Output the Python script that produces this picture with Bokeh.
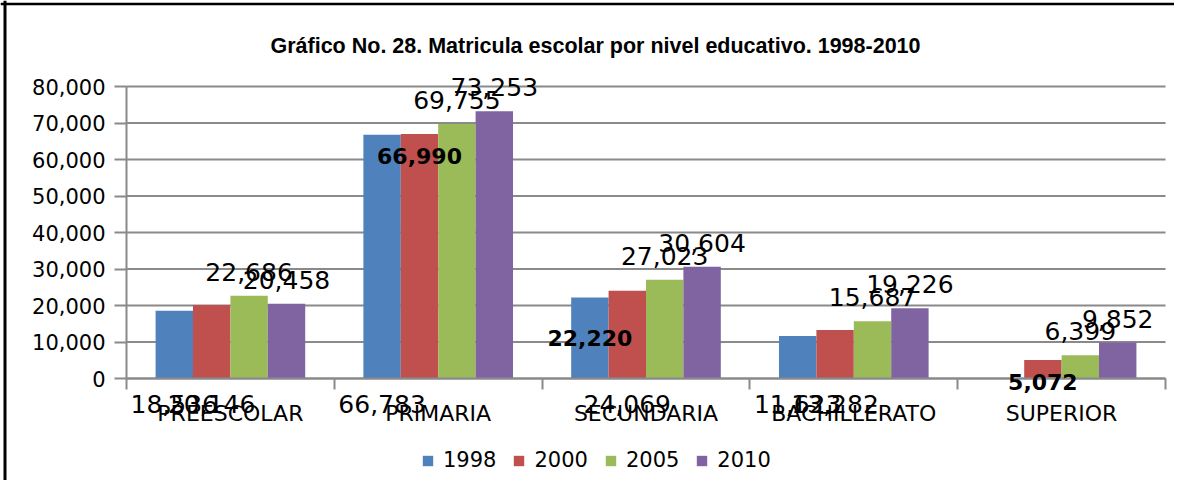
from bokeh.plotting import figure
from bokeh.models import (ColumnDataSource, Range1d, FixedTicker, NumeralTickFormatter,
                          LabelSet, Label, Legend, LegendItem, Span)
from bokeh.embed import file_html
from bokeh.resources import INLINE
from bokeh.core.properties import value

# ---------------- data ----------------
categories = ["PREESCOLAR", "PRIMARIA", "SECUNDARIA", "BACHILLERATO", "SUPERIOR"]
years = ["1998", "2000", "2005", "2010"]
v1998 = [18536, 66783, 22220, 11623, None]
v2000 = [20146, 66990, 24069, 13282, 5072]
v2005 = [22686, 69755, 27023, 15687, 6399]
v2010 = [20458, 73253, 30604, 19226, 9852]
y_ticks = [0, 10000, 20000, 30000, 40000, 50000, 60000, 70000, 80000]
title_text = "Gráfico No. 28. Matricula escolar por nivel educativo. 1998-2010"

# ---------------- styles / layout ----------------
series = [v1998, v2000, v2005, v2010]
colors = ["#4F81BD", "#C0504D", "#9BBB59", "#8064A2"]
label_modes = [
    ["base", "base", "center", "base", None],
    ["base", "inside", "base", "base", "inside"],
    ["above"] * 5,
    ["above"] * 5,
]
bar_offsets = [-0.27, -0.09, 0.09, 0.27]
bar_width = 0.18
GRAY = "#8a8a8a"
FONT = "DejaVu Sans"

W, H = 1174, 480                 # canvas size
PLOT_L, PLOT_R = 126, 1165       # plot area, canvas px
PLOT_T, PLOT_B = 86, 378
n = len(categories)
ymax = y_ticks[-1]
xpx = (PLOT_R - PLOT_L) / n
ypx = (PLOT_B - PLOT_T) / ymax
x_range = Range1d(-PLOT_L / xpx, n + (W - PLOT_R) / xpx)
y_range = Range1d(-(H - PLOT_B) / ypx, ymax + PLOT_T / ypx)

p = figure(width=W, height=H, output_backend="svg", toolbar_location=None,
           x_range=x_range, y_range=y_range,
           min_border_left=0, min_border_right=0, min_border_top=0, min_border_bottom=0)
p.outline_line_color = None
p.background_fill_color = "white"
p.border_fill_color = "white"
p.xgrid.visible = False
p.ygrid.visible = False

# outer chart box (left and top edges visible in the window)
p.add_layout(Span(location=4.5, location_units="screen", dimension="height",
                  line_color="black", line_width=3))
p.add_layout(Span(location=H - 3.5, location_units="screen", dimension="width",
                  line_color="black", line_width=2.5))

# title
p.add_layout(Label(x=595, y=H - 45, x_units="screen", y_units="screen", text=title_text,
                   text_align="center", text_baseline="alphabetic",
                   text_font="Liberation Sans", text_font_style="bold",
                   text_font_size="21.5px", text_color="black"))

# horizontal gridlines over the plot area
p.segment(x0=[0] * len(y_ticks), x1=[n] * len(y_ticks), y0=y_ticks, y1=y_ticks,
          line_color=GRAY, line_width=2)

legend_items = []
for k, (vals, col, yr) in enumerate(zip(series, colors, years)):
    xs, tops = [], []
    for i, v in enumerate(vals):
        if v is None:
            continue
        xs.append(i + 0.5 + bar_offsets[k])
        tops.append(v)
    src = ColumnDataSource(dict(x=xs, top=tops))
    r = p.vbar(x="x", top="top", width=bar_width, source=src,
               fill_color=col, line_color=None)
    legend_items.append(LegendItem(label=yr, renderers=[r]))

    groups = {}
    for i, v in enumerate(vals):
        mode = label_modes[k][i]
        if v is None or mode is None:
            continue
        g = groups.setdefault(mode, dict(x=[], y=[], t=[]))
        g["x"].append(i + 0.5 + bar_offsets[k])
        if mode == "base":
            g["y"].append(0)
        elif mode == "center":
            g["y"].append(v / 2)
        else:
            g["y"].append(v)
        g["t"].append(f"{v:,}")
    for mode, g in groups.items():
        bold = mode in ("inside", "center")
        yoff = {"above": 15, "base": -34, "inside": -30, "center": -8}[mode]
        p.add_layout(LabelSet(x="x", y="y", text="t", source=ColumnDataSource(g),
                              text_align="center", text_baseline="alphabetic",
                              y_offset=yoff, text_font=value(FONT),
                              text_font_size="22px" if bold else "25px",
                              text_font_style="bold" if bold else "normal",
                              text_color="black"))

# x axis: category names at centres, tick marks at category boundaries
p.xaxis.fixed_location = 0
p.xaxis.bounds = (0, n)
p.xaxis.ticker = FixedTicker(ticks=[i + 0.5 for i in range(n)],
                             minor_ticks=list(range(n + 1)))
p.xaxis.major_label_overrides = {i + 0.5: c for i, c in enumerate(categories)}
p.xaxis.major_tick_out = 0
p.xaxis.major_tick_in = 0
p.xaxis.minor_tick_out = 11
p.xaxis.minor_tick_in = 0
p.xaxis.minor_tick_line_color = GRAY
p.xaxis.minor_tick_line_width = 2
p.xaxis.axis_line_color = GRAY
p.xaxis.axis_line_width = 2
p.xaxis.major_label_text_font = FONT
p.xaxis.major_label_text_font_size = "22px"
p.xaxis.major_label_text_color = "black"
p.xaxis.major_label_standoff = 11

# y axis
p.yaxis.fixed_location = 0
p.yaxis.bounds = (0, ymax)
p.yaxis.ticker = FixedTicker(ticks=y_ticks)
p.yaxis.formatter = NumeralTickFormatter(format="0,0")
p.yaxis.major_tick_out = 12
p.yaxis.major_tick_in = 0
p.yaxis.minor_tick_line_color = None
p.yaxis.major_tick_line_color = GRAY
p.yaxis.major_tick_line_width = 2
p.yaxis.axis_line_color = GRAY
p.yaxis.axis_line_width = 2
p.yaxis.major_label_text_font = FONT
p.yaxis.major_label_text_font_size = "21px"
p.yaxis.major_label_text_color = "black"
p.yaxis.major_label_standoff = 9

legend = Legend(items=legend_items, orientation="horizontal", location=(421, 8),
                glyph_width=13, glyph_height=13, label_standoff=9, spacing=16,
                label_height=20, padding=0, margin=0,
                label_text_font=FONT, label_text_font_size="21px",
                label_text_color="black", background_fill_alpha=0,
                border_line_color=None)
p.add_layout(legend, "center")

open("out.html", "w").write(file_html(p, INLINE))
